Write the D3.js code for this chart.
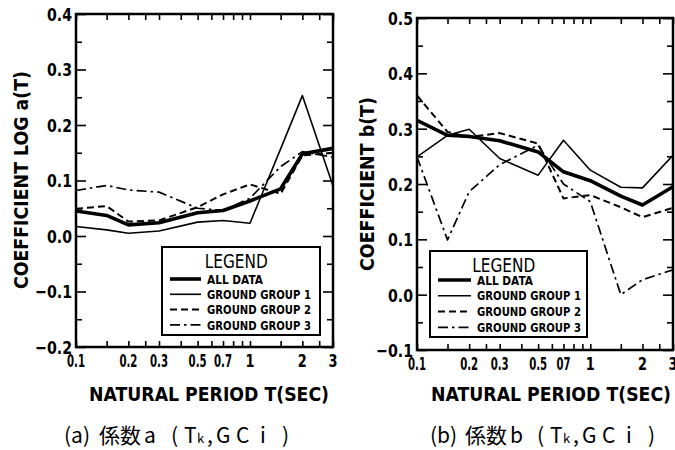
<!DOCTYPE html>
<meta charset="utf-8">
<style>
body { margin: 0; background: #fff; }
svg text { font-family: "DejaVu Sans", sans-serif; font-weight: bold; fill: #000; }
.frame { fill: none; stroke: #000; stroke-width: 2.5; }
.tick line { stroke: #000; stroke-width: 1.6; }
.caption { font-family: "Noto Sans CJK JP", sans-serif; font-weight: normal; }
</style>
<body>
<svg width="675" height="450"></svg>
<script src="https://cdn.jsdelivr.net/npm/d3@7"></script>
<script>

var periods = [0.1, 0.15, 0.2, 0.3, 0.5, 0.7, 1, 1.5, 2, 3];

// panel (a): coefficient log a(T)
var aAll = [0.045, 0.037, 0.020, 0.024, 0.042, 0.046, 0.063, 0.085, 0.148, 0.158];
var aG1  = [0.017, 0.011, 0.005, 0.009, 0.025, 0.028, 0.023, 0.157, 0.253, 0.090];
var aG2  = [0.049, 0.054, 0.026, 0.028, 0.052, 0.075, 0.093, 0.076, 0.145, 0.150];
var aG3  = [0.082, 0.091, 0.083, 0.079, 0.050, 0.046, 0.068, 0.125, 0.152, 0.142];

// panel (b): coefficient b(T)
var bAll = [0.315, 0.288, 0.286, 0.278, 0.258, 0.222, 0.206, 0.178, 0.162, 0.195];
var bG1  = [0.249, 0.288, 0.299, 0.246, 0.216, 0.279, 0.225, 0.194, 0.193, 0.252];
var bG2  = [0.360, 0.294, 0.285, 0.292, 0.273, 0.174, 0.180, 0.158, 0.140, 0.157];
var bG3  = [0.249, 0.099, 0.186, 0.235, 0.270, 0.200, 0.168, 0.000, 0.027, 0.045];

var seriesNames = ["ALL DATA", "GROUND GROUP 1", "GROUND GROUP 2", "GROUND GROUP 3"];

var xTickLabelsA = ["0.1", "0.2", "0.3", "0.5", "0.7", "1", "2", "3"];
var xTickLabelsB = ["0.1", "0.2", "0.3", "0.5", "07", "1", "2", "3"];
var xTickLabelVals = [0.1, 0.2, 0.3, 0.5, 0.7, 1, 2, 3];
var xTickMarks = [0.1, 0.15, 0.2, 0.25, 0.3, 0.4, 0.5, 0.6, 0.7, 0.8, 0.9, 1, 1.5, 2, 2.5, 3];

var styles = [
  { w: 3.6, dash: null },
  { w: 1.6, dash: null },
  { w: 2.0, dash: "7,4" },
  { w: 1.7, dash: "10,4,2.5,4" }
];

var svg = d3.select("svg");

function panel(opt) {
  var x = d3.scaleLog().domain([0.1, 3]).range([opt.left, opt.right]);
  var y = d3.scaleLinear().domain(opt.ydom).range([opt.bottom, opt.top]);
  var g = svg.append("g");

  var yMajor = d3.range(opt.ydom[0], opt.ydom[1] + 0.001, 0.1).map(function(v) { return +v.toFixed(2); });
  var yMinor = d3.range(opt.ydom[0] + 0.05, opt.ydom[1], 0.1).map(function(v) { return +v.toFixed(2); });

  function noDomain(s) { s.select(".domain").remove(); }

  // inward ticks on all four sides
  g.append("g").attr("transform", "translate(" + opt.left + ",0)")
    .call(d3.axisRight(y).tickValues(yMajor).tickSize(10).tickFormat("")).call(noDomain);
  g.append("g").attr("transform", "translate(" + opt.left + ",0)")
    .call(d3.axisRight(y).tickValues(yMinor).tickSize(6).tickFormat("")).call(noDomain);
  g.append("g").attr("transform", "translate(" + opt.right + ",0)")
    .call(d3.axisLeft(y).tickValues(yMajor).tickSize(10).tickFormat("")).call(noDomain);
  g.append("g").attr("transform", "translate(" + opt.right + ",0)")
    .call(d3.axisLeft(y).tickValues(yMinor).tickSize(6).tickFormat("")).call(noDomain);
  g.append("g").attr("transform", "translate(0," + opt.bottom + ")")
    .call(d3.axisTop(x).tickValues(xTickMarks).tickSize(6).tickFormat("")).call(noDomain);
  g.append("g").attr("transform", "translate(0," + opt.top + ")")
    .call(d3.axisBottom(x).tickValues(xTickMarks).tickSize(6).tickFormat("")).call(noDomain);

  g.append("rect").attr("class", "frame")
    .attr("x", opt.left).attr("y", opt.top)
    .attr("width", opt.right - opt.left).attr("height", opt.bottom - opt.top);

  // tick labels (narrowed to match the condensed lettering)
  g.selectAll(".ylab").data(yMajor).enter().append("text")
    .attr("x", opt.left - 4).attr("y", function(d) { return y(d); })
    .attr("dy", "0.38em").attr("text-anchor", "end")
    .style("font-size", "18px")
    .attr("textLength", function(d) { return d < 0 ? 37 : 25; })
    .attr("lengthAdjust", "spacingAndGlyphs")
    .text(function(d) { return d < 0 ? "\u2212" + Math.abs(d).toFixed(1) : d.toFixed(1); });

  g.selectAll(".xlab").data(xTickLabelVals).enter().append("text")
    .attr("x", function(d) { return x(d); }).attr("y", opt.bottom + 20)
    .attr("text-anchor", "middle")
    .style("font-size", "18px")
    .attr("textLength", function(d, i) { var n = opt.xlabels[i].length; return n === 1 ? 9 : n === 2 ? 14 : 18; })
    .attr("lengthAdjust", "spacingAndGlyphs")
    .text(function(d, i) { return opt.xlabels[i]; });

  // axis titles
  g.append("text")
    .attr("transform", "translate(" + opt.ytitleX + "," + opt.ytitleY + ") rotate(-90)")
    .attr("text-anchor", "middle").attr("dy", "0.35em")
    .attr("textLength", opt.ytitleLen).attr("lengthAdjust", "spacingAndGlyphs")
    .style("font-size", "20px")
    .text(opt.ytitle);
  g.append("text")
    .attr("x", opt.xtitleX).attr("y", 401)
    .attr("text-anchor", "middle")
    .attr("textLength", 240).attr("lengthAdjust", "spacingAndGlyphs")
    .style("font-size", "20px")
    .text("NATURAL PERIOD T(SEC)");

  // data lines
  var line = d3.line()
    .x(function(d, i) { return x(periods[i]); })
    .y(function(d) { return y(d); });

  var clipId = "clip" + opt.id;
  svg.append("clipPath").attr("id", clipId).append("rect")
    .attr("x", opt.left).attr("y", opt.top)
    .attr("width", opt.right - opt.left).attr("height", opt.bottom - opt.top);

  g.append("g").attr("clip-path", "url(#" + clipId + ")")
    .selectAll("path").data(opt.series).enter().append("path")
    .attr("d", line)
    .attr("fill", "none").attr("stroke", "#000")
    .attr("stroke-linejoin", "round")
    .attr("stroke-width", function(d, i) { return styles[i].w; })
    .attr("stroke-dasharray", function(d, i) { return styles[i].dash; });

  // legend
  var L = opt.legend;
  var lg = g.append("g");
  lg.append("rect").attr("x", L.x).attr("y", L.y).attr("width", L.w).attr("height", L.h)
    .attr("fill", "#fff").attr("stroke", "#000").attr("stroke-width", 2);
  lg.append("text").attr("x", L.x + L.w * 0.47).attr("y", L.y + 21)
    .attr("text-anchor", "middle").style("font-size", "19px").style("font-weight", "normal")
    .attr("textLength", 63).attr("lengthAdjust", "spacingAndGlyphs")
    .text("LEGEND");
  var rows = lg.selectAll(".row").data(seriesNames).enter().append("g")
    .attr("transform", function(d, i) { return "translate(0," + (L.y + L.r0 + i * L.dr) + ")"; });
  rows.append("line").attr("x1", L.x + 8).attr("x2", L.x + 8 + L.lw)
    .attr("stroke", "#000")
    .attr("stroke-width", function(d, i) { return styles[i].w; })
    .attr("stroke-dasharray", function(d, i) { return styles[i].dash; });
  rows.append("text").attr("x", L.x + 14 + L.lw).attr("dy", "0.36em")
    .style("font-size", "13px")
    .attr("textLength", function(d) { return d === "ALL DATA" ? 56 : 104; })
    .attr("lengthAdjust", "spacingAndGlyphs")
    .text(function(d) { return d; });
}

panel({
  id: "a", left: 76, right: 333, top: 14, bottom: 347, ydom: [-0.2, 0.4],
  series: [aAll, aG1, aG2, aG3], xlabels: xTickLabelsA,
  ytitle: "COEFFICIENT LOG a(T)", ytitleX: 21, ytitleY: 180, ytitleLen: 218,
  xtitleX: 209,
  legend: { x: 162, y: 247, w: 158, h: 88, r0: 32, dr: 15.3, lw: 31 }
});

panel({
  id: "b", left: 417, right: 673, top: 18, bottom: 350, ydom: [-0.1, 0.5],
  series: [bAll, bG1, bG2, bG3], xlabels: xTickLabelsB,
  ytitle: "COEFFICIENT b(T)", ytitleX: 367, ytitleY: 184, ytitleLen: 174,
  xtitleX: 551,
  legend: { x: 430, y: 251, w: 157, h: 86, r0: 29, dr: 15.8, lw: 33 }
});

// captions, handwritten-style spacing
var captionPieces = [
  { t: "(L)", dx: 0 }, { t: "係数", dx: 35 }, { t: "L", dx: 80 }, { t: "(", dx: 107 },
  { t: "T", dx: 120 }, { t: "k", dx: 133, small: true }, { t: ",", dx: 143 },
  { t: "G", dx: 152 }, { t: "C", dx: 172 }, { t: "i", dx: 196 }, { t: ")", dx: 218 }
];
function caption(x0, letter) {
  var t = svg.append("text").attr("class", "caption").attr("y", 443).style("font-size", "21px");
  t.selectAll("tspan").data(captionPieces).enter().append("tspan")
    .attr("x", function(d) { return x0 + d.dx; })
    .style("font-size", function(d) { return d.small ? "13px" : null; })
    .text(function(d) { return d.t.replace("L", letter); });
}
caption(64, "a");
caption(430, "b");

</script>
</body>
